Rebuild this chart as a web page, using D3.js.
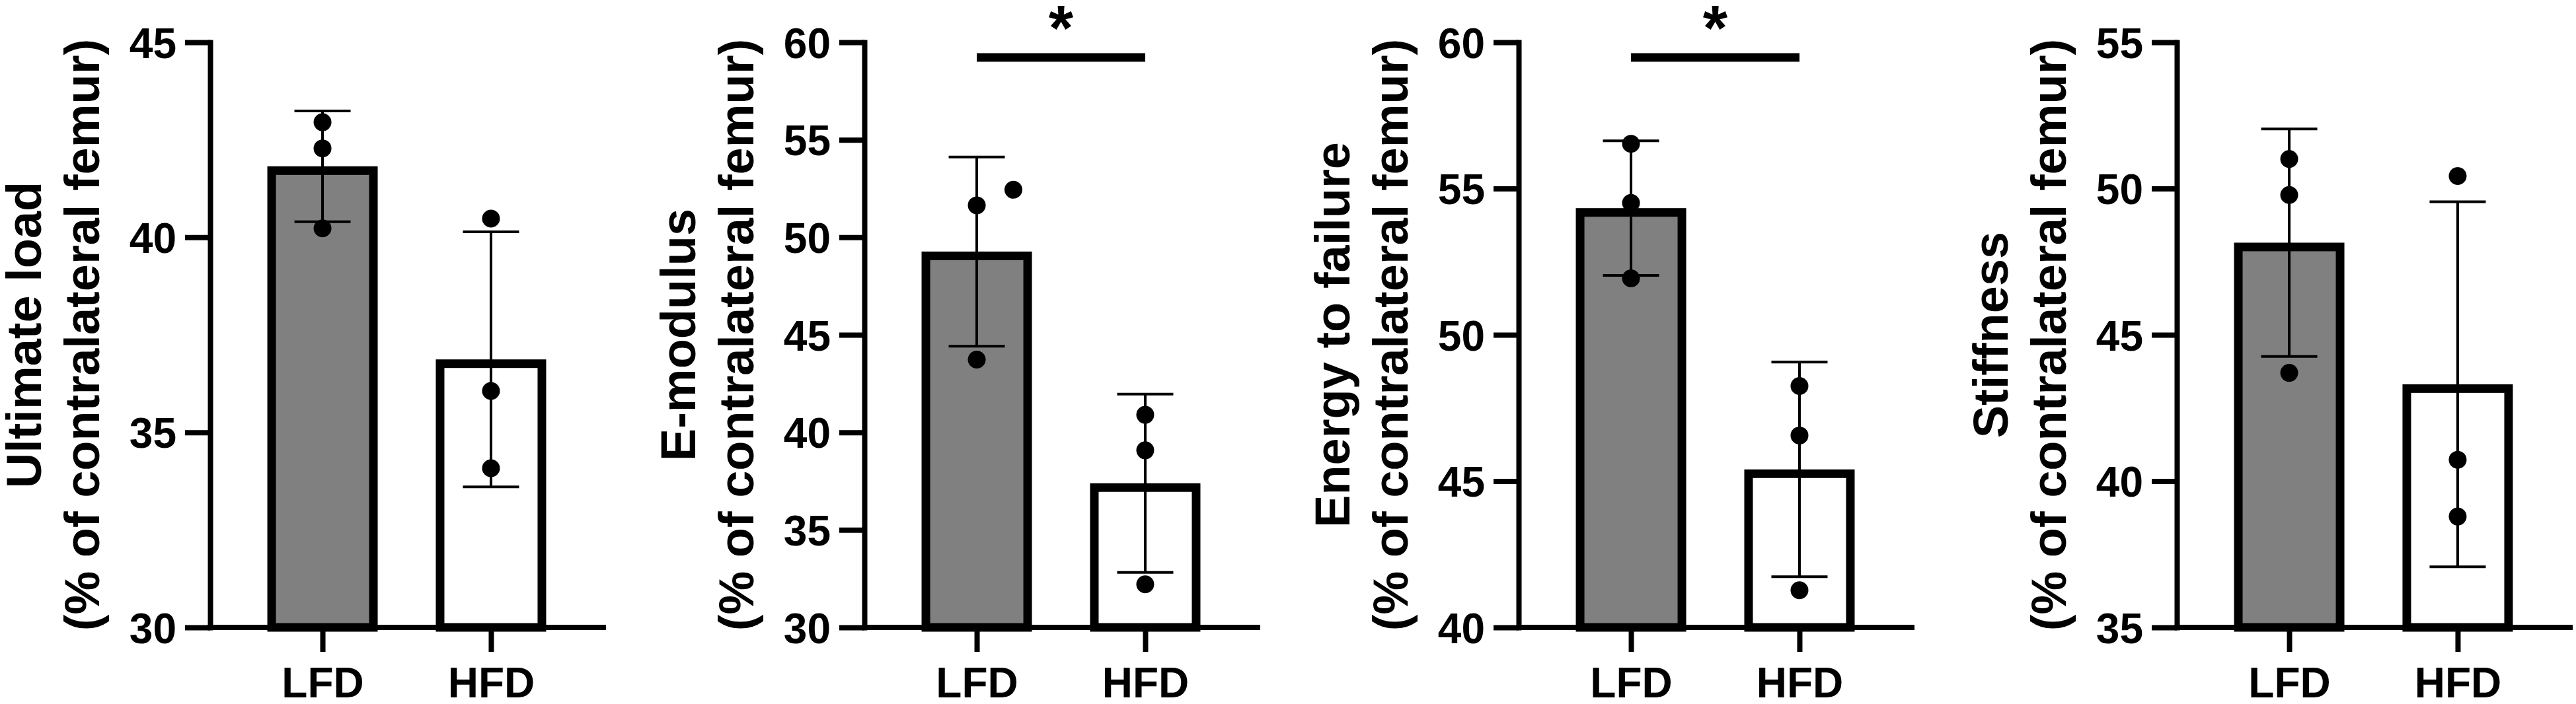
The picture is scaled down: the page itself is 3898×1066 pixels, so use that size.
<!DOCTYPE html>
<html>
<head>
<meta charset="utf-8">
<script src="https://cdn.jsdelivr.net/npm/d3@7/dist/d3.min.js"></script>
<style>
  body { margin: 0; background: #fff; }
  text { font-family: "Liberation Sans", Arial, sans-serif; font-weight: bold; fill: #000; }
</style>
</head>
<body>
<div id="chart"></div>
<script>
// Datos
const groups = ['LFD', 'HFD'];
const titles = [
    ['Ultimate load', '(% of contralateral femur)'],
    ['E-modulus', '(% of contralateral femur)'],
    ['Energy to failure', '(% of contralateral femur)'],
    ['Stiffness', '(% of contralateral femur)']
];
const yDomains = [[30, 45], [30, 60], [40, 60], [35, 55]];
const yTicks = [
    [30, 35, 40, 45],
    [30, 35, 40, 45, 50, 55, 60],
    [40, 45, 50, 55, 60],
    [35, 40, 45, 50, 55]
];
const means = [[41.82, 36.87], [49.27, 37.39], [54.33, 45.40], [48.15, 43.31]];
const sds = [[1.42, 3.27], [4.85, 4.57], [2.30, 3.67], [3.89, 6.24]];
const points = [
    [[42.95, 42.28, 40.23], [40.48, 36.06, 34.08]],
    [[51.64, 52.44, 43.73], [40.90, 39.08, 32.21]],
    [[56.53, 54.51, 51.93], [48.25, 46.56, 41.27]],
    [[51.01, 49.78, 43.70], [50.43, 40.73, 38.79]]
];
// desplazamiento horizontal de puntos (fraccion del ancho de barra)
const jitter = [
    [[0, 0, 0], [0, 0, 0]],
    [[0, 0.36, 0], [0, 0, 0]],
    [[0, 0, 0], [0, 0, 0]],
    [[0, 0, 0], [0, 0, 0]]
];
const sigLevels = [null, 59.22, 59.48, null];
const sigLabels = [null, '*', '*', null];
const barFills = ['#808080', '#ffffff'];

// Layout
const W = 3898, H = 1066;
const axisX = [318, 1308, 2298, 3294];
const plotW = 595, plotTop = 64, plotBottom = 950;
const barW = 167, barStroke = 13, axisStroke = 8;
const capW = 85, errStroke = 4, dotR = 13.5;

const svg = d3.select('#chart').append('svg')
    .attr('width', W)
    .attr('height', H)
    .style('background', '#fff');

titles.forEach((t, p) => {
    const g = svg.append('g').attr('transform', `translate(${axisX[p]},0)`);

    const x = d3.scalePoint().domain(groups).range([0, plotW]).padding(0.667);
    const y = d3.scaleLinear().domain(yDomains[p]).range([plotBottom, plotTop]);

    // Barras (borde dibujado hacia dentro)
    g.selectAll('rect.bar')
        .data(groups)
        .enter().append('rect')
        .attr('class', 'bar')
        .attr('x', d => x(d) - barW / 2 + barStroke / 2)
        .attr('width', barW - barStroke)
        .attr('y', (d, i) => y(means[p][i]) + barStroke / 2)
        .attr('height', (d, i) => y(yDomains[p][0]) - y(means[p][i]) - barStroke / 2)
        .attr('fill', (d, i) => barFills[i])
        .attr('stroke', '#000')
        .attr('stroke-width', barStroke);

    // Barras de error (media +/- DE)
    const err = g.append('g').attr('stroke', '#000').attr('stroke-width', errStroke);
    groups.forEach((gr, i) => {
        const cx = x(gr);
        const hi = y(means[p][i] + sds[p][i]);
        const lo = y(means[p][i] - sds[p][i]);
        err.append('line').attr('x1', cx).attr('x2', cx).attr('y1', hi).attr('y2', lo);
        err.append('line').attr('x1', cx - capW / 2).attr('x2', cx + capW / 2).attr('y1', hi).attr('y2', hi);
        err.append('line').attr('x1', cx - capW / 2).attr('x2', cx + capW / 2).attr('y1', lo).attr('y2', lo);
    });

    // Puntos individuales
    const dots = [];
    groups.forEach((gr, i) => {
        points[p][i].forEach((v, k) => dots.push({ g: gr, v, j: jitter[p][i][k] }));
    });
    g.selectAll('circle.dot')
        .data(dots)
        .enter().append('circle')
        .attr('class', 'dot')
        .attr('cx', d => x(d.g) + d.j * (barW - barStroke))
        .attr('cy', d => y(d.v))
        .attr('r', dotR)
        .attr('fill', '#000');

    // Eje Y
    const yAxis = g.append('g')
        .call(d3.axisLeft(y).tickValues(yTicks[p]).tickSize(38).tickSizeOuter(0).tickPadding(13));
    yAxis.select('.domain').attr('stroke-width', axisStroke).attr('stroke-linecap', 'square');
    yAxis.selectAll('.tick line').attr('stroke-width', axisStroke);
    yAxis.selectAll('.tick text')
        .attr('font-size', 64)
        .attr('font-family', '"Liberation Sans", Arial, sans-serif')
        .attr('font-weight', 'bold')
        .attr('dy', '0.36em');

    // Eje X
    const xAxis = g.append('g')
        .attr('transform', `translate(0,${plotBottom})`)
        .call(d3.axisBottom(x).tickSize(37).tickSizeOuter(0).tickPadding(24));
    xAxis.select('.domain').attr('stroke-width', axisStroke).attr('stroke-linecap', 'square')
        .attr('d', `M0,0H${plotW}`);
    xAxis.selectAll('.tick line').attr('stroke-width', axisStroke);
    xAxis.selectAll('.tick text')
        .attr('font-size', 64)
        .attr('font-family', '"Liberation Sans", Arial, sans-serif')
        .attr('font-weight', 'bold');

    // Titulo del eje Y (dos lineas)
    const cy = (plotTop + plotBottom) / 2;
    g.append('text')
        .attr('transform', `translate(-256,${cy}) rotate(-90)`)
        .attr('text-anchor', 'middle')
        .attr('font-size', 74)
        .text(t[0]);
    g.append('text')
        .attr('transform', `translate(-168,${cy}) rotate(-90)`)
        .attr('text-anchor', 'middle')
        .attr('font-size', 74)
        .text(t[1]);

    // Significancia
    if (sigLevels[p] != null) {
        const sy = y(sigLevels[p]);
        g.append('line')
            .attr('x1', x(groups[0])).attr('x2', x(groups[1]))
            .attr('y1', sy).attr('y2', sy)
            .attr('stroke', '#000')
            .attr('stroke-width', 13);
        g.append('text')
            .attr('x', (x(groups[0]) + x(groups[1])) / 2)
            .attr('y', sy - 12)
            .attr('text-anchor', 'middle')
            .attr('font-size', 96)
            .text(sigLabels[p]);
    }
});
</script>
</body>
</html>
